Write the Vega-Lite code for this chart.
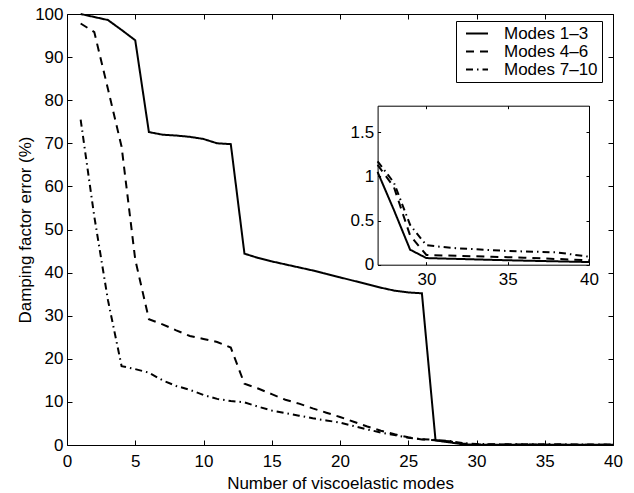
{
  "$schema": "https://vega.github.io/schema/vega-lite/v6.json",
  "width": 546,
  "height": 431,
  "autosize": "none",
  "padding": {"left": 67, "top": 14, "right": 21, "bottom": 48},
  "background": "white",
  "config": {
    "font": "Liberation Sans",
    "view": {"stroke": "black", "strokeWidth": 1},
    "axis": {
      "labelFont": "Liberation Sans", "titleFont": "Liberation Sans",
      "labelFontSize": 17, "titleFontSize": 17, "titleFontWeight": "normal",
      "labelColor": "black", "titleColor": "black", "tickColor": "black", "domainColor": "black",
      "grid": false, "labelFlush": false, "labelOverlap": false, "tickSize": -5, "domain": false
    },
    "legend": {
      "labelFont": "Liberation Sans", "labelFontSize": 17, "labelColor": "black"
    }
  },
  "datasets": {
    "modes": [
      {"s": "Modes 1–3", "x": 1, "y": 100}, {"s": "Modes 1–3", "x": 2, "y": 99.3}, {"s": "Modes 1–3", "x": 3, "y": 98.6},
      {"s": "Modes 1–3", "x": 4, "y": 96.3}, {"s": "Modes 1–3", "x": 5, "y": 93.9}, {"s": "Modes 1–3", "x": 6, "y": 72.6},
      {"s": "Modes 1–3", "x": 7, "y": 72.0}, {"s": "Modes 1–3", "x": 8, "y": 71.8}, {"s": "Modes 1–3", "x": 9, "y": 71.5},
      {"s": "Modes 1–3", "x": 10, "y": 71.0}, {"s": "Modes 1–3", "x": 11, "y": 70.0}, {"s": "Modes 1–3", "x": 12, "y": 69.8},
      {"s": "Modes 1–3", "x": 13, "y": 44.4}, {"s": "Modes 1–3", "x": 14, "y": 43.4}, {"s": "Modes 1–3", "x": 15, "y": 42.6},
      {"s": "Modes 1–3", "x": 16, "y": 41.9}, {"s": "Modes 1–3", "x": 17, "y": 41.2}, {"s": "Modes 1–3", "x": 18, "y": 40.5},
      {"s": "Modes 1–3", "x": 19, "y": 39.7}, {"s": "Modes 1–3", "x": 20, "y": 38.9}, {"s": "Modes 1–3", "x": 21, "y": 38.1},
      {"s": "Modes 1–3", "x": 22, "y": 37.3}, {"s": "Modes 1–3", "x": 23, "y": 36.5}, {"s": "Modes 1–3", "x": 24, "y": 35.8},
      {"s": "Modes 1–3", "x": 25, "y": 35.4}, {"s": "Modes 1–3", "x": 26, "y": 35.2}, {"s": "Modes 1–3", "x": 27, "y": 1.05},
      {"s": "Modes 1–3", "x": 28, "y": 0.62}, {"s": "Modes 1–3", "x": 29, "y": 0.17}, {"s": "Modes 1–3", "x": 30, "y": 0.075},
      {"s": "Modes 1–3", "x": 31, "y": 0.07}, {"s": "Modes 1–3", "x": 32, "y": 0.065}, {"s": "Modes 1–3", "x": 33, "y": 0.06},
      {"s": "Modes 1–3", "x": 34, "y": 0.055}, {"s": "Modes 1–3", "x": 35, "y": 0.05}, {"s": "Modes 1–3", "x": 36, "y": 0.046},
      {"s": "Modes 1–3", "x": 37, "y": 0.042}, {"s": "Modes 1–3", "x": 38, "y": 0.038}, {"s": "Modes 1–3", "x": 39, "y": 0.034},
      {"s": "Modes 1–3", "x": 40, "y": 0.03},
      {"s": "Modes 4–6", "x": 1, "y": 97.8}, {"s": "Modes 4–6", "x": 2, "y": 95.8}, {"s": "Modes 4–6", "x": 3, "y": 82.6},
      {"s": "Modes 4–6", "x": 4, "y": 69.2}, {"s": "Modes 4–6", "x": 5, "y": 43.0}, {"s": "Modes 4–6", "x": 6, "y": 29.2},
      {"s": "Modes 4–6", "x": 7, "y": 28.0}, {"s": "Modes 4–6", "x": 8, "y": 26.6}, {"s": "Modes 4–6", "x": 9, "y": 25.3},
      {"s": "Modes 4–6", "x": 10, "y": 24.6}, {"s": "Modes 4–6", "x": 11, "y": 23.9}, {"s": "Modes 4–6", "x": 12, "y": 22.6},
      {"s": "Modes 4–6", "x": 13, "y": 14.2}, {"s": "Modes 4–6", "x": 14, "y": 13.1}, {"s": "Modes 4–6", "x": 15, "y": 11.8},
      {"s": "Modes 4–6", "x": 16, "y": 10.5}, {"s": "Modes 4–6", "x": 17, "y": 9.6}, {"s": "Modes 4–6", "x": 18, "y": 8.5},
      {"s": "Modes 4–6", "x": 19, "y": 7.5}, {"s": "Modes 4–6", "x": 20, "y": 6.5}, {"s": "Modes 4–6", "x": 21, "y": 5.4},
      {"s": "Modes 4–6", "x": 22, "y": 4.3}, {"s": "Modes 4–6", "x": 23, "y": 3.3}, {"s": "Modes 4–6", "x": 24, "y": 2.5},
      {"s": "Modes 4–6", "x": 25, "y": 1.8}, {"s": "Modes 4–6", "x": 26, "y": 1.3}, {"s": "Modes 4–6", "x": 27, "y": 1.13},
      {"s": "Modes 4–6", "x": 28, "y": 0.88}, {"s": "Modes 4–6", "x": 29, "y": 0.33}, {"s": "Modes 4–6", "x": 30, "y": 0.11},
      {"s": "Modes 4–6", "x": 31, "y": 0.105}, {"s": "Modes 4–6", "x": 32, "y": 0.1}, {"s": "Modes 4–6", "x": 33, "y": 0.095},
      {"s": "Modes 4–6", "x": 34, "y": 0.09}, {"s": "Modes 4–6", "x": 35, "y": 0.085}, {"s": "Modes 4–6", "x": 36, "y": 0.08},
      {"s": "Modes 4–6", "x": 37, "y": 0.072}, {"s": "Modes 4–6", "x": 38, "y": 0.065}, {"s": "Modes 4–6", "x": 39, "y": 0.058},
      {"s": "Modes 4–6", "x": 40, "y": 0.05},
      {"s": "Modes 7–10", "x": 1, "y": 75.5}, {"s": "Modes 7–10", "x": 2, "y": 53.0}, {"s": "Modes 7–10", "x": 3, "y": 33.6},
      {"s": "Modes 7–10", "x": 4, "y": 18.3}, {"s": "Modes 7–10", "x": 5, "y": 17.6}, {"s": "Modes 7–10", "x": 6, "y": 16.8},
      {"s": "Modes 7–10", "x": 7, "y": 15.0}, {"s": "Modes 7–10", "x": 8, "y": 13.7}, {"s": "Modes 7–10", "x": 9, "y": 12.8},
      {"s": "Modes 7–10", "x": 10, "y": 11.6}, {"s": "Modes 7–10", "x": 11, "y": 10.7}, {"s": "Modes 7–10", "x": 12, "y": 10.2},
      {"s": "Modes 7–10", "x": 13, "y": 9.9}, {"s": "Modes 7–10", "x": 14, "y": 8.9}, {"s": "Modes 7–10", "x": 15, "y": 8.0},
      {"s": "Modes 7–10", "x": 16, "y": 7.4}, {"s": "Modes 7–10", "x": 17, "y": 6.8}, {"s": "Modes 7–10", "x": 18, "y": 6.2},
      {"s": "Modes 7–10", "x": 19, "y": 5.7}, {"s": "Modes 7–10", "x": 20, "y": 5.2}, {"s": "Modes 7–10", "x": 21, "y": 4.4},
      {"s": "Modes 7–10", "x": 22, "y": 3.6}, {"s": "Modes 7–10", "x": 23, "y": 2.9}, {"s": "Modes 7–10", "x": 24, "y": 2.3},
      {"s": "Modes 7–10", "x": 25, "y": 1.7}, {"s": "Modes 7–10", "x": 26, "y": 1.35}, {"s": "Modes 7–10", "x": 27, "y": 1.17},
      {"s": "Modes 7–10", "x": 28, "y": 0.93}, {"s": "Modes 7–10", "x": 29, "y": 0.45}, {"s": "Modes 7–10", "x": 30, "y": 0.22},
      {"s": "Modes 7–10", "x": 31, "y": 0.2}, {"s": "Modes 7–10", "x": 32, "y": 0.185}, {"s": "Modes 7–10", "x": 33, "y": 0.175},
      {"s": "Modes 7–10", "x": 34, "y": 0.165}, {"s": "Modes 7–10", "x": 35, "y": 0.155}, {"s": "Modes 7–10", "x": 36, "y": 0.15},
      {"s": "Modes 7–10", "x": 37, "y": 0.145}, {"s": "Modes 7–10", "x": 38, "y": 0.14}, {"s": "Modes 7–10", "x": 39, "y": 0.115},
      {"s": "Modes 7–10", "x": 40, "y": 0.09}
    ]
  },
  "data": {"name": "modes"},
  "resolve": {
    "scale": {"x": "independent", "y": "independent"},
    "axis": {"x": "independent", "y": "independent"}
  },
  "layer": [
    {
      "mark": {"type": "line", "color": "black", "strokeWidth": 2},
      "encoding": {
        "x": {"field": "x", "type": "quantitative",
          "scale": {"domain": [0, 40], "nice": false, "zero": false},
          "axis": {"orient": "bottom", "values": [0, 5, 10, 15, 20, 25, 30, 35, 40], "title": "Number of viscoelastic modes", "labelPadding": 13, "titlePadding": 6}},
        "y": {"field": "y", "type": "quantitative",
          "scale": {"domain": [0, 100], "nice": false},
          "axis": {"orient": "left", "values": [0, 10, 20, 30, 40, 50, 60, 70, 80, 90, 100], "title": "Damping factor error (%)", "labelPadding": 9, "titlePadding": 0}},
        "strokeDash": {"field": "s", "type": "nominal",
          "scale": {"domain": ["Modes 1–3", "Modes 4–6", "Modes 7–10"], "range": [[1, 0], [8, 6], [7, 4, 1.5, 4]]},
          "legend": {"orient": "none", "legendX": 389, "legendY": 7, "title": null, "symbolType": "stroke",
            "symbolStrokeWidth": 2, "symbolStrokeColor": "black", "symbolSize": 484, "symbolOffset": 5.5,
            "strokeColor": "black", "fillColor": "white", "padding": 3.5, "rowPadding": 0, "clipHeight": 18, "labelOffset": 15}}
      }
    },
    {
      "mark": {"type": "line", "opacity": 0},
      "encoding": {
        "x": {"field": "x", "type": "quantitative",
          "scale": {"domain": [0, 40], "nice": false, "zero": false},
          "axis": {"orient": "top", "values": [0, 5, 10, 15, 20, 25, 30, 35, 40], "labels": false, "title": null}},
        "y": {"field": "y", "type": "quantitative",
          "scale": {"domain": [0, 100], "nice": false},
          "axis": {"orient": "right", "values": [0, 10, 20, 30, 40, 50, 60, 70, 80, 90, 100], "labels": false, "title": null}}
      }
    },
    {
      "transform": [{"filter": "datum.x >= 27"}],
      "mark": {"type": "line", "color": "black", "strokeWidth": 2},
      "encoding": {
        "x": {"field": "x", "type": "quantitative",
          "scale": {"domain": [27, 40], "nice": false, "zero": false, "range": [310.6, 522]},
          "axis": {"orient": "bottom", "offset": -180.3, "values": [30, 35, 40], "title": null, "domain": true, "tickSize": -3, "labelPadding": 10}},
        "y": {"field": "y", "type": "quantitative",
          "scale": {"domain": [0, 1.8], "nice": false, "range": [250.7, 91.7]},
          "axis": {"orient": "left", "offset": -310.6, "values": [0, 0.5, 1, 1.5], "format": "~g", "title": null, "domain": true, "tickSize": -3, "labelPadding": 7}},
        "strokeDash": {"field": "s", "type": "nominal"}
      }
    },
    {
      "transform": [{"filter": "datum.x >= 27"}],
      "mark": {"type": "line", "opacity": 0},
      "encoding": {
        "x": {"field": "x", "type": "quantitative",
          "scale": {"domain": [27, 40], "nice": false, "zero": false, "range": [310.6, 522]},
          "axis": {"orient": "top", "offset": -91.7, "values": [30, 35, 40], "labels": false, "title": null, "domain": true, "tickSize": -3}},
        "y": {"field": "y", "type": "quantitative",
          "scale": {"domain": [0, 1.8], "nice": false, "range": [250.7, 91.7]},
          "axis": {"orient": "right", "offset": -24, "values": [0, 0.5, 1, 1.5], "labels": false, "title": null, "domain": true, "tickSize": -3}}
      }
    }
  ]
}
